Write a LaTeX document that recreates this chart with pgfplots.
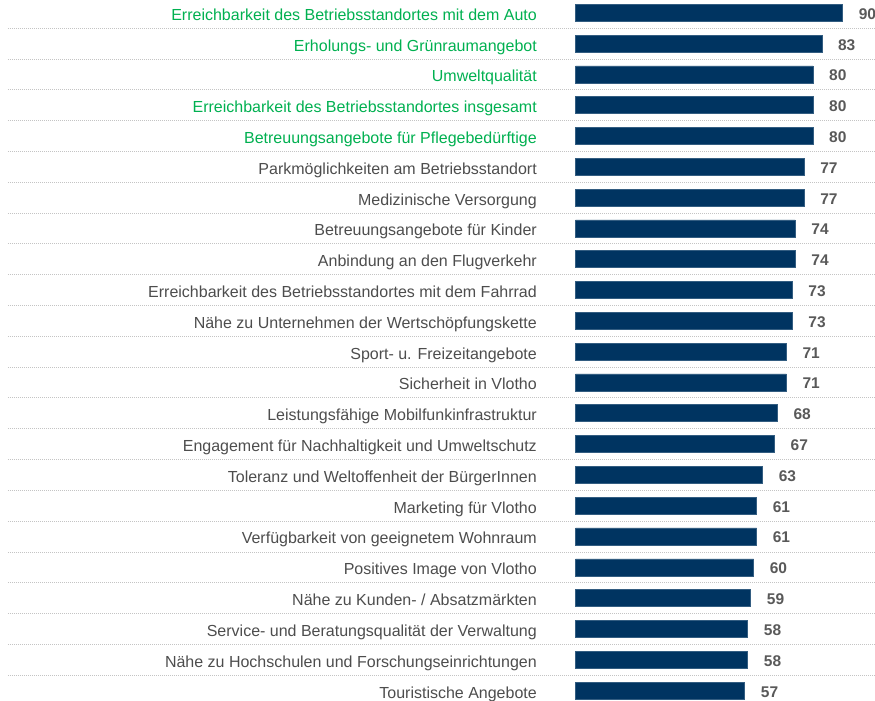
\documentclass[border=0pt]{standalone}
\usepackage{pgfplots}
\pgfplotsset{compat=1.18}
\usepackage{fontspec}
\setmainfont{Liberation Sans}
\definecolor{barblue}{HTML}{003461}
\definecolor{lblgreen}{HTML}{00B050}
\definecolor{lblgray}{HTML}{4D4D4D}
\definecolor{valgray}{HTML}{595959}
\definecolor{sepgray}{HTML}{C4C4C4}
\begin{document}
\begin{tikzpicture}
\begin{axis}[
  at={(0pt,0pt)}, anchor=south west,
  scale only axis,
  width=872pt, height=701pt,
  xmin=-191.3, xmax=102.6,
  ymin=-0.412, ymax=22.34,
  y dir=reverse,
  xbar, bar width=17pt,
  axis line style={draw=none},
  xtick=\empty,
  ytick={0,...,22},
  minor ytick={0.5,1.5,...,21.5},
  yminorgrids,
  minor grid style={sepgray, line width=0.7pt, dash pattern=on 0.7pt off 1.3pt},
  major tick length=0pt, minor tick length=0pt,
  ytick style={draw=none},
  yticklabel style={anchor=base east, inner sep=0pt, xshift=529pt, yshift=-7.5pt, font=\fontsize{16}{18}\selectfont, text=lblgray},
  yticklabels={
    {\textcolor{lblgreen}{Erreichbarkeit des Betriebsstandortes mit dem Auto}},
    {\textcolor{lblgreen}{Erholungs- und Grünraumangebot}},
    {\textcolor{lblgreen}{Umweltqualität}},
    {\textcolor{lblgreen}{Erreichbarkeit des Betriebsstandortes insgesamt}},
    {\textcolor{lblgreen}{Betreuungsangebote für Pflegebedürftige}},
    {Parkmöglichkeiten am Betriebsstandort},
    {Medizinische Versorgung},
    {Betreuungsangebote für Kinder},
    {Anbindung an den Flugverkehr},
    {Erreichbarkeit des Betriebsstandortes mit dem Fahrrad},
    {Nähe zu Unternehmen der Wertschöpfungskette},
    {Sport- u. Freizeitangebote},
    {Sicherheit in Vlotho},
    {Leistungsfähige Mobilfunkinfrastruktur},
    {Engagement für Nachhaltigkeit und Umweltschutz},
    {Toleranz und Weltoffenheit der BürgerInnen},
    {Marketing für Vlotho},
    {Verfügbarkeit von geeignetem Wohnraum},
    {Positives Image von Vlotho},
    {Nähe zu Kunden- / Absatzmärkten},
    {Service- und Beratungsqualität der Verwaltung},
    {Nähe zu Hochschulen und Forschungseinrichtungen},
    {Touristische Angebote}},
  point meta=x,
  nodes near coords={\textbf{\pgfmathprintnumber{\pgfplotspointmeta}}},
  nodes near coords style={anchor=base west, inner sep=0pt, xshift=16pt, yshift=-6.5pt, font=\fontsize{15.5}{17}\selectfont, text=valgray},
  /pgf/number format/assume math mode=true,
  clip=false,
]
\addplot[fill=barblue, draw=barblue!80!white, line width=0.5pt] coordinates {
  (90,0) (83,1) (80,2) (80,3) (80,4) (77,5) (77,6) (74,7) (74,8) (73,9)
  (73,10) (71,11) (71,12) (68,13) (67,14) (63,15) (61,16) (61,17) (60,18)
  (59,19) (58,20) (58,21) (57,22)
};
\end{axis}
\pgfresetboundingbox
\useasboundingbox (-8pt,0pt) rectangle (867pt,701pt);
\end{tikzpicture}
\end{document}
